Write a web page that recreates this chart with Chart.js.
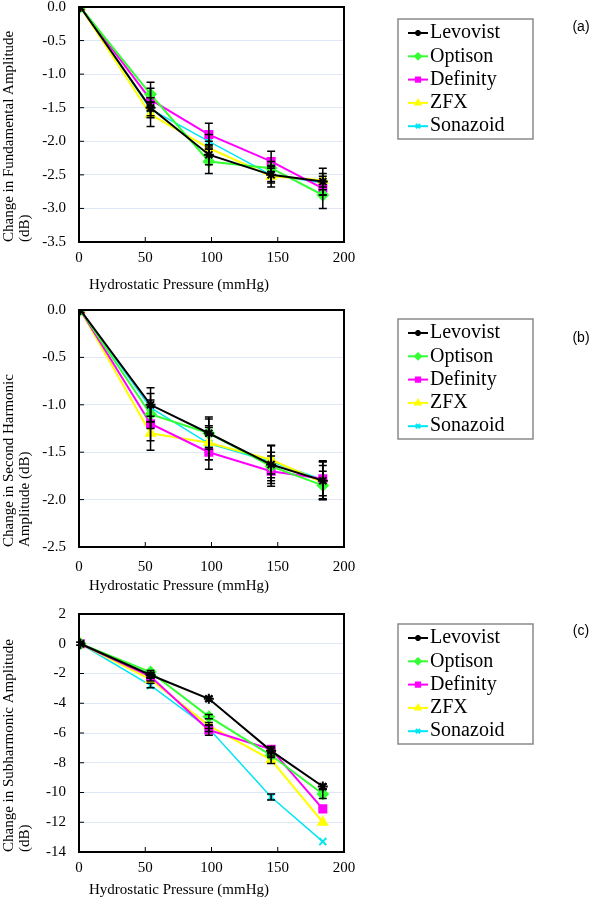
<!DOCTYPE html>
<html lang="en">
<head>
    <meta charset="UTF-8">
    <title>Hydrostatic Pressure Response</title>
    <script src="https://cdn.jsdelivr.net/npm/chart.js"></script>
    <style>
        body { margin: 0; background: #fff; }
        #wrap { position: relative; width: 593px; height: 900px; overflow: hidden; }
        canvas { position: absolute; left: 0; }
    </style>
</head>
<body>
<div id="wrap">
    <canvas id="ca"></canvas>
    <canvas id="cb"></canvas>
    <canvas id="cc"></canvas>
</div>

<script>
    // hydrostatic pressure (mmHg)
    const pressure = [1, 54, 98, 145, 184];
    const agents = ['Levovist', 'Optison', 'Definity', 'ZFX', 'Sonazoid'];
    const colors = ['#000000', '#33ff33', '#ff00ff', '#ffff00', '#00e6f5'];
    const markers = ['star', 'rectRot', 'rect', 'triangle', 'crossRot'];

    // (a) change in fundamental amplitude (dB), one row per agent
    const fundamental = [
        [0, -1.5, -2.2, -2.5, -2.6],
        [0, -1.3, -2.3, -2.4, -2.8],
        [0, -1.38, -1.9, -2.3, -2.7],
        [0, -1.6, -2.1, -2.52, -2.58],
        [0, -1.52, -2.0, -2.5, -2.62]
    ];
    const fundamentalErr = [
        [0, 0.15, 0.15, 0.12, 0.2],
        [0, 0.18, 0.18, 0.1, 0.2],
        [0, 0.17, 0.17, 0.15, 0.1],
        [0, 0.18, 0.1, 0.16, 0.1],
        [0, 0.1, 0.1, 0.1, 0.1]
    ];

    // (b) change in second harmonic amplitude (dB)
    const secondHarmonic = [
        [0, -1.0, -1.3, -1.63, -1.8],
        [0, -1.1, -1.3, -1.65, -1.85],
        [0, -1.2, -1.5, -1.7, -1.78],
        [0, -1.3, -1.4, -1.58, -1.82],
        [0, -1.03, -1.41, -1.6, -1.79]
    ];
    const secondHarmonicErr = [
        [0, 0.18, 0.17, 0.2, 0.2],
        [0, 0.15, 0.15, 0.15, 0.15],
        [0, 0.18, 0.18, 0.16, 0.18],
        [0, 0.18, 0.18, 0.15, 0.18],
        [0, 0.15, 0.17, 0.17, 0.2]
    ];

    // (c) change in subharmonic amplitude (dB)
    const subharmonic = [
        [0, -2.1, -3.7, -7.2, -9.6],
        [0, -1.9, -4.9, -7.5, -10.1],
        [0, -2.2, -5.8, -7.1, -11.1],
        [0, -2.4, -5.5, -7.8, -12.0],
        [0, -2.8, -5.7, -10.3, -13.3]
    ];
    const subharmonicErr = [
        [0.1, 0.15, 0.15, 0.2, 0.15],
        [0, 0.1, 0.15, 0.15, 0.3],
        [0, 0.1, 0.35, 0.2, 0],
        [0, 0.1, 0.2, 0.25, 0],
        [0.1, 0.15, 0.2, 0.2, 0]
    ];

    const xTicks = [0, 50, 100, 150, 200];
    const fundamentalTicks = [0, -0.5, -1.0, -1.5, -2.0, -2.5, -3.0, -3.5];
    const secondHarmonicTicks = [0, -0.5, -1.0, -1.5, -2.0, -2.5];
    const subharmonicTicks = [2, 0, -2, -4, -6, -8, -10, -12, -14];

    const serif = "'Liberation Serif', 'Times New Roman', serif";

    const panels = [
        { id: 'ca', values: fundamental, err: fundamentalErr, ticks: fundamentalTicks, dec: 1,
          yTitle: ['Change in Fundamental Amplitude', '(dB)'], tag: '(a)',
          plotTop: 5, plotBottom: 242, pageBottom: 300, legendTop: 19, tagY: 27, xPad: 7, xTitleGap: 43 },
        { id: 'cb', values: secondHarmonic, err: secondHarmonicErr, ticks: secondHarmonicTicks, dec: 1,
          yTitle: ['Change in Second Harmonic', 'Amplitude (dB)'], tag: '(b)',
          plotTop: 308, plotBottom: 547, pageBottom: 600, legendTop: 319, tagY: 338, xPad: 11, xTitleGap: 39 },
        { id: 'cc', values: subharmonic, err: subharmonicErr, ticks: subharmonicTicks, dec: 0,
          yTitle: ['Change in Subharmonic Amplitude', '(dB)'], tag: '(c)',
          plotTop: 612, plotBottom: 852, pageBottom: 900, legendTop: 624, tagY: 631, xPad: 7, xTitleGap: 38 }
    ];

    // error bars, frame, inner ticks, titles, legend
    const panelPlugin = {
        id: 'panel',
        afterDatasetsDraw(chart, args, opts) {
            const { ctx, scales: { x, y } } = chart;
            ctx.save();
            ctx.strokeStyle = '#000';
            ctx.lineWidth = 1.5;
            opts.err.forEach((row, d) => {
                row.forEach((e, i) => {
                    if (!e) return;
                    const v = opts.values[d][i];
                    const px = x.getPixelForValue(pressure[i]);
                    const y1 = y.getPixelForValue(v + e);
                    const y2 = y.getPixelForValue(v - e);
                    ctx.beginPath();
                    ctx.moveTo(px, y1); ctx.lineTo(px, y2);
                    ctx.moveTo(px - 4, y1); ctx.lineTo(px + 4, y1);
                    ctx.moveTo(px - 4, y2); ctx.lineTo(px + 4, y2);
                    ctx.stroke();
                });
            });
            ctx.restore();
        },
        afterDraw(chart, args, opts) {
            const { ctx, chartArea: a, scales: { x, y } } = chart;
            const off = opts.canvasTop;
            ctx.save();
            // inner tick marks
            ctx.strokeStyle = '#000';
            ctx.lineWidth = 1;
            ctx.beginPath();
            xTicks.slice(1, -1).forEach(t => {
                const px = x.getPixelForValue(t);
                ctx.moveTo(px, a.bottom); ctx.lineTo(px, a.bottom - 5);
            });
            opts.ticks.forEach(t => {
                const py = y.getPixelForValue(t);
                ctx.moveTo(a.left, py); ctx.lineTo(a.left + 5, py);
            });
            ctx.stroke();
            // frame
            ctx.lineWidth = 2;
            ctx.strokeRect(a.left, a.top, a.right - a.left, a.bottom - a.top);

            // axis titles
            ctx.fillStyle = '#000';
            ctx.font = '15px ' + serif;
            ctx.textBaseline = 'middle';
            ctx.textAlign = 'left';
            ctx.fillText('Hydrostatic Pressure (mmHg)', 89, a.bottom + opts.xTitleGap);
            ctx.save();
            ctx.translate(0, a.bottom);
            ctx.rotate(-Math.PI / 2);
            ctx.fillText(opts.yTitle[0], 0, 9);
            ctx.fillText(opts.yTitle[1], 0, 25);
            ctx.restore();

            // legend box
            const lt = opts.legendTop - off;
            ctx.strokeStyle = '#8a8a8a';
            ctx.lineWidth = 1.5;
            ctx.strokeRect(398, lt, 135, 120);
            ctx.font = '20px ' + serif;
            agents.forEach((name, i) => {
                const ry = lt + 14 + i * 23.3;
                ctx.strokeStyle = colors[i];
                ctx.lineWidth = 2;
                ctx.beginPath();
                ctx.moveTo(408, ry); ctx.lineTo(428, ry);
                ctx.stroke();
                ctx.fillStyle = colors[i];
                Chart.helpers.drawPoint(ctx, {
                    pointStyle: markers[i], radius: 3, rotation: 0, borderWidth: 1.5
                }, 418, ry);
                ctx.fillStyle = '#000';
                ctx.fillText(name, 430, ry);
            });

            // panel tag
            ctx.font = "14px 'Liberation Sans', Arial, sans-serif";
            ctx.textAlign = 'center';
            ctx.fillText(opts.tag, 581, opts.tagY - off);
            ctx.restore();
        }
    };

    panels.forEach(p => {
        const canvasTop = p.plotTop - 20;
        const height = p.pageBottom - canvasTop;
        const cv = document.getElementById(p.id);
        cv.width = 593;
        cv.height = height;
        cv.style.top = canvasTop + 'px';
        cv.style.width = '593px';
        cv.style.height = height + 'px';
        const xHeight = height - (p.plotBottom - canvasTop);

        new Chart(cv, {
            type: 'line',
            data: {
                datasets: agents.map((name, i) => ({
                    label: name,
                    data: pressure.map((px, k) => ({ x: px, y: p.values[i][k] })),
                    borderColor: colors[i],
                    backgroundColor: colors[i],
                    pointStyle: markers[i],
                    pointRadius: 5,
                    pointBorderWidth: 2,
                    borderWidth: i === 4 ? 1.5 : 2,
                    tension: 0
                }))
            },
            options: {
                responsive: false,
                animation: false,
                layout: { padding: { top: 20, left: 0, right: 593 - 344, bottom: 0 } },
                plugins: {
                    legend: { display: false },
                    tooltip: { enabled: false },
                    panel: {
                        values: p.values, err: p.err, ticks: p.ticks, yTitle: p.yTitle, tag: p.tag,
                        canvasTop: canvasTop, legendTop: p.legendTop, tagY: p.tagY, xTitleGap: p.xTitleGap
                    }
                },
                scales: {
                    x: {
                        type: 'linear',
                        min: 0, max: 200,
                        afterBuildTicks: s => { s.ticks = xTicks.map(v => ({ value: v })); },
                        afterFit: s => { s.height = xHeight; },
                        grid: { display: false, drawTicks: false },
                        border: { display: false },
                        ticks: { padding: p.xPad, color: '#000', font: { family: serif, size: 15 } }
                    },
                    y: {
                        min: p.ticks[p.ticks.length - 1], max: p.ticks[0],
                        afterBuildTicks: s => { s.ticks = p.ticks.map(v => ({ value: v })); },
                        afterFit: s => { s.width = 79; },
                        grid: { color: '#dde7f5', lineWidth: 1, drawTicks: false },
                        border: { display: false },
                        ticks: {
                            padding: 13, color: '#000', font: { family: serif, size: 15 },
                            callback: v => v.toFixed(p.dec)
                        }
                    }
                }
            },
            plugins: [panelPlugin]
        });
    });
</script>
</body>
</html>
